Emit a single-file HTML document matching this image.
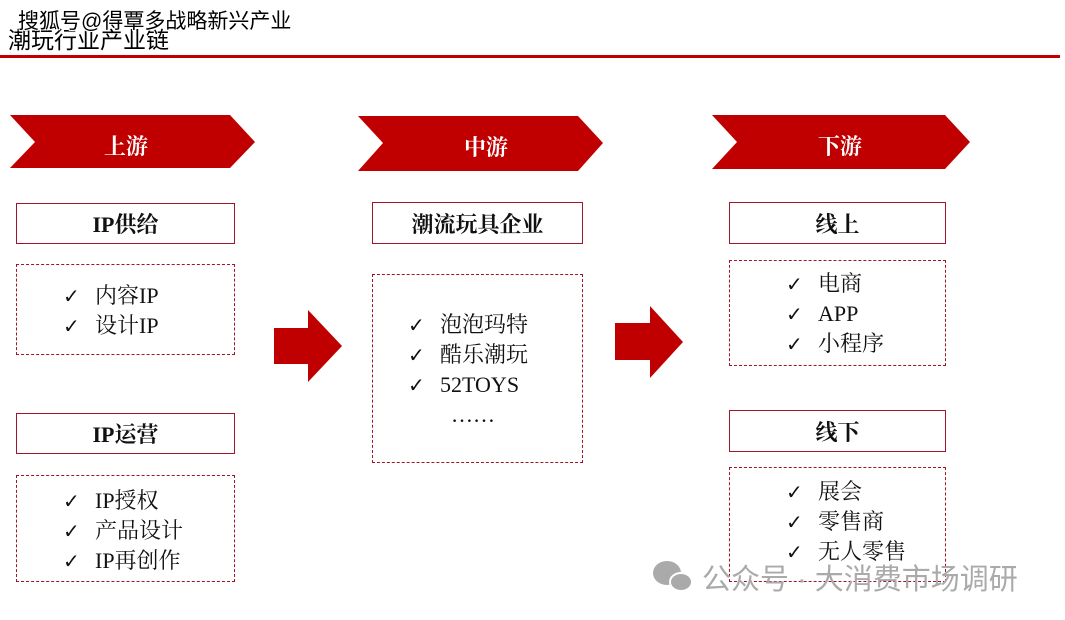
<!DOCTYPE html>
<html><head><meta charset="utf-8"><style>
body{margin:0;width:1065px;height:620px;background:#fff;position:relative;overflow:hidden;font-family:"Liberation Serif","Noto Serif CJK SC",serif}
.a{position:absolute}
.box{position:absolute;box-sizing:border-box;border:1.5px solid #a0152a;display:flex;align-items:center;justify-content:center;font-size:22px;font-weight:bold;color:#111}
.d{position:absolute;box-sizing:border-box;border:1.5px dashed #a0152a}
.list{position:absolute;font-size:22px;line-height:30px;color:#111;white-space:nowrap}
.list span{display:inline-block;width:32px;font-family:"DejaVu Sans",sans-serif;font-size:20px;font-weight:bold}
.chev{position:absolute;color:#fff;font-size:22px;font-weight:bold}
</style></head><body>
<div class="a" style="left:8px;top:27px;font-family:'Liberation Sans','Noto Sans CJK SC',sans-serif;font-size:23px;line-height:26px;color:#000">潮玩行业产业链</div>
<div class="a" style="left:18px;top:9px;font-family:'Liberation Sans','Noto Sans CJK SC',sans-serif;font-size:21px;line-height:26px;color:#000;text-shadow:1px 1px 0 #fff,-1px -1px 0 #fff,1px -1px 0 #fff,-1px 1px 0 #fff">搜狐号@得覃多战略新兴产业</div>
<div class="a" style="left:0;top:55px;width:1060px;height:3px;background:#c00000"></div>
<svg class="a" style="left:0;top:0" width="1065" height="620">
<polygon points="10,115 230,115 255,142 230,168 10,168 35,142" fill="#c00000"/>
<polygon points="358,116 578,116 603,143 578,171 358,171 383,143" fill="#c00000"/>
<polygon points="712,115 945,115 970,142 945,169 712,169 737,142" fill="#c00000"/>
<polygon points="274,328 308,328 308,310 342,346 308,382 308,364 274,364" fill="#c00000"/>
<polygon points="615,323 650,323 650,306 683,342 650,378 650,360 615,360" fill="#c00000"/>
<g fill="#aaa"><ellipse cx="667" cy="573" rx="14" ry="12"/><ellipse cx="681" cy="582" rx="11" ry="9" stroke="#fff" stroke-width="2"/></g>
</svg>
<div class="chev" style="left:104px;top:130px">上游</div>
<div class="chev" style="left:464px;top:131px">中游</div>
<div class="chev" style="left:818px;top:130px">下游</div>

<div class="box" style="left:16px;top:203px;width:219px;height:41px">IP供给</div>
<div class="d" style="left:16px;top:264px;width:219px;height:91px"></div>
<div class="list" style="left:63px;top:281px"><span>✓</span>内容IP<br><span>✓</span>设计IP</div>

<div class="box" style="left:16px;top:413px;width:219px;height:41px">IP运营</div>
<div class="d" style="left:16px;top:475px;width:219px;height:107px"></div>
<div class="list" style="left:63px;top:486px"><span>✓</span>IP授权<br><span>✓</span>产品设计<br><span>✓</span>IP再创作</div>

<div class="box" style="left:372px;top:202px;width:211px;height:42px">潮流玩具企业</div>
<div class="d" style="left:372px;top:274px;width:211px;height:189px"></div>
<div class="list" style="left:408px;top:310px"><span>✓</span>泡泡玛特<br><span>✓</span>酷乐潮玩<br><span>✓</span>52TOYS<br><span></span>&nbsp;&nbsp;……</div>

<div class="box" style="left:729px;top:202px;width:217px;height:42px">线上</div>
<div class="d" style="left:729px;top:260px;width:217px;height:106px"></div>
<div class="list" style="left:786px;top:269px"><span>✓</span>电商<br><span>✓</span>APP<br><span>✓</span>小程序</div>

<div class="box" style="left:729px;top:410px;width:217px;height:42px">线下</div>
<div class="d" style="left:729px;top:467px;width:217px;height:115px"></div>
<div class="list" style="left:786px;top:477px"><span>✓</span>展会<br><span>✓</span>零售商<br><span>✓</span>无人零售</div>

<div class="a" style="left:702px;top:562px;font-family:'Liberation Sans','Noto Sans CJK SC',sans-serif;font-size:29px;line-height:36px;color:#aaa;white-space:nowrap">公众号 · 大消费市场调研</div>
</body></html>
